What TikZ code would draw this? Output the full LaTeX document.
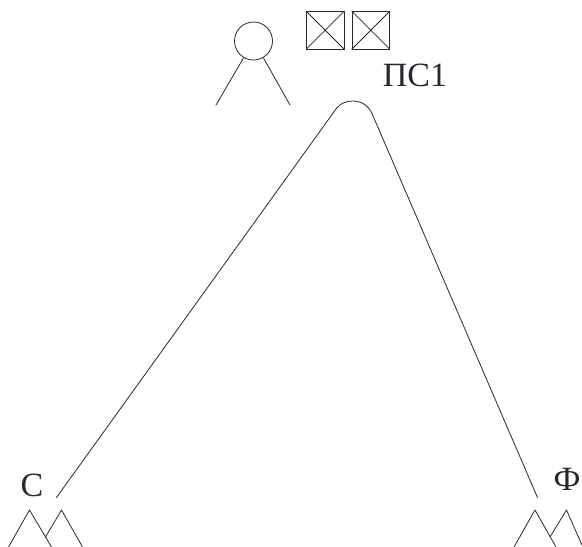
\documentclass[tikz,border=0pt]{standalone}
\usepackage{fontspec}
\setmainfont{Liberation Serif}
\definecolor{ink}{HTML}{23292E}
\tikzset{
  stroke/.style={draw=ink,line width=0.8pt,line cap=round,line join=round},
  crossbox/.style={stroke,rectangle,minimum size=37.5pt,inner sep=0pt},
  headcirc/.style={stroke,circle,minimum size=38pt,inner sep=0pt},
  lbl/.style={text=ink,inner sep=0pt,font=\fontsize{34}{34}\selectfont,anchor=base}
}
\begin{document}
\begin{tikzpicture}[x=1pt,y=-1pt]
\useasboundingbox (0,0) rectangle (582,547);
% person
\node[headcirc] (head) at (253.5,41) {};
\coordinate (legL) at (216,105);
\coordinate (legR) at (290,105);
\draw[stroke] (243.5,58) -- (legL);
\draw[stroke] (263.5,58) -- (legR);
% crossed boxes
\node[crossbox] (b1) at (325.2,30.2) {};
\node[crossbox] (b2) at (370.8,30.2) {};
\draw[stroke] (b1.north west) -- (b1.south east) (b1.north east) -- (b1.south west);
\draw[stroke] (b2.north west) -- (b2.south east) (b2.north east) -- (b2.south west);
% labels
\node[lbl] (ps) at (415,86) {ПС1};
\node[lbl] (c) at (32,496) {С};
\node[lbl] (f) at (567,490) {Ф};
% arch
\coordinate (archL) at (56.5,497.5);
\coordinate (archR) at (537.5,497.5);
\draw[stroke] (archL) -- (336.7,108) .. controls (341,103) and (346.5,101) .. (352.7,101)
  .. controls (361,101) and (368,105) .. (372,113.5) -- (archR);
% left peaks
\coordinate (p1) at (29.5,510);
\coordinate (p2) at (61.5,510);
\coordinate (p3) at (535,510);
\coordinate (p4) at (566.5,510);
\draw[stroke] (8.5,547) -- (p1) -- (51.5,547);
\draw[stroke] (45.5,537) -- (p2) -- (82.5,547);
\draw[stroke] (514,547) -- (p3) -- (556,547);
\draw[stroke] (550,537) -- (p4) -- (582,545);
\end{tikzpicture}
\end{document}
